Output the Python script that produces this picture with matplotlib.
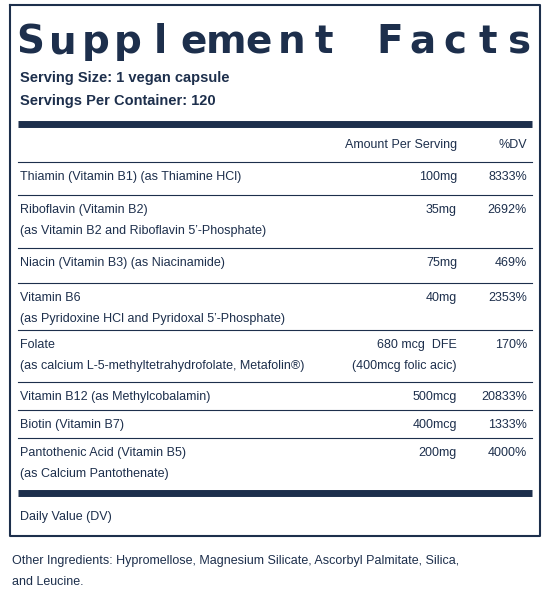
import matplotlib.pyplot as plt

NAVY = '#1d2f4c'

names = [
    ['Thiamin (Vitamin B1) (as Thiamine HCl)'],
    ['Riboflavin (Vitamin B2)', '(as Vitamin B2 and Riboflavin 5\u2019-Phosphate)'],
    ['Niacin (Vitamin B3) (as Niacinamide)'],
    ['Vitamin B6', '(as Pyridoxine HCl and Pyridoxal 5\u2019-Phosphate)'],
    ['Folate', '(as calcium L-5-methyltetrahydrofolate, Metafolin\u00ae)'],
    ['Vitamin B12 (as Methylcobalamin)'],
    ['Biotin (Vitamin B7)'],
    ['Pantothenic Acid (Vitamin B5)', '(as Calcium Pantothenate)'],
]
amounts = ['100mg', '35mg', '75mg', '40mg', '680 mcg  DFE', '500mcg', '400mcg', '200mg']
amount_notes = ['', '', '', '', '(400mcg folic acic)', '', '', '']
dvs = ['8333%', '2692%', '469%', '2353%', '170%', '20833%', '1333%', '4000%']

row_tops = [162, 195, 248, 283, 330, 382, 410, 438]
row_bottoms = row_tops[1:] + [488]

fig = plt.figure(figsize=(5.5, 6), dpi=100)
ax = fig.add_axes([0, 0, 1, 1])
ax.set_xlim(0, 550)
ax.set_ylim(600, 0)
ax.axis('off')

fs = 9
kw = dict(color=NAVY, fontsize=fs, family='Liberation Sans', va='center')

# outer box
ax.plot([10, 540, 540, 10, 10], [5, 5, 536, 536, 5], color=NAVY, lw=1.5)

title = 'Supplement Facts'
x0, x1 = 30, 520
for i, ch in enumerate(title):
    ax.text(x0 + (x1 - x0) * i / (len(title) - 1), 42, ch, color=NAVY,
            fontsize=28, fontweight='bold', family='DejaVu Sans',
            ha='center', va='center')

ax.text(20, 78, 'Serving Size: 1 vegan capsule', fontweight='bold', fontsize=10.5,
        color=NAVY, family='Liberation Sans', va='center')
ax.text(20, 101, 'Servings Per Container: 120', fontweight='bold', fontsize=10.5,
        color=NAVY, family='Liberation Sans', va='center')

ax.plot([18, 532], [124, 124], color=NAVY, lw=5, solid_capstyle='butt')
ax.text(457, 145, 'Amount Per Serving', ha='right', **kw)
ax.text(527, 145, '%DV', ha='right', **kw)

for i, (nm, am, note, dv) in enumerate(zip(names, amounts, amount_notes, dvs)):
    top = row_tops[i]
    ax.plot([18, 532], [top, top], color=NAVY, lw=0.8)
    y = top + 15
    for j, line in enumerate(nm):
        ax.text(20, y + 21 * j, line, ha='left', **kw)
    ax.text(457, y, am, ha='right', **kw)
    if note:
        ax.text(457, y + 21, note, ha='right', **kw)
    ax.text(527, y, dv, ha='right', **kw)

ax.plot([18, 532], [493, 493], color=NAVY, lw=5, solid_capstyle='butt')
ax.text(20, 517, 'Daily Value (DV)', ha='left', **kw)

ax.text(12, 561, 'Other Ingredients: Hypromellose, Magnesium Silicate, Ascorbyl Palmitate, Silica,',
        ha='left', **kw)
ax.text(12, 582, 'and Leucine.', ha='left', **kw)

fig.savefig('out.png', dpi=100)
